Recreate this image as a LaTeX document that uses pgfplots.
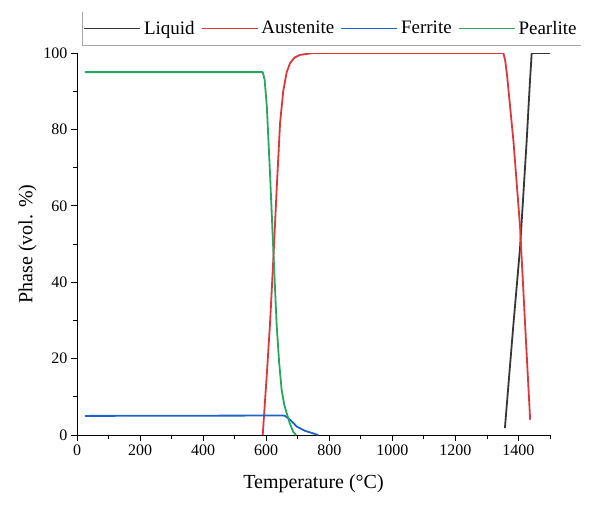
\documentclass[border=0pt]{standalone}
\usepackage{pgfplots}
\pgfplotsset{compat=1.18}
\usepackage{fontspec}
\setmainfont{Liberation Serif}
\definecolor{cLiq}{RGB}{55,55,55}
\definecolor{cAus}{RGB}{220,55,60}
\definecolor{cFer}{RGB}{30,100,200}
\definecolor{cPea}{RGB}{40,165,95}
\pgfplotsset{
  legend image code/.code={\draw[#1] (0pt,0pt) -- (56pt,0pt);},
}
\begin{document}
\begin{tikzpicture}
\begin{axis}[
  name=ax,
  scale only axis,
  width=473pt, height=382pt,
  xmin=0, xmax=1500, ymin=0, ymax=100,
  axis x line*=bottom, axis y line*=left,
  axis line style={-, line width=1pt, black},
  xtick={0,200,...,1400}, ytick={0,20,...,100},
  minor xtick={100,300,...,1500}, minor ytick={10,30,...,90},
  tick align=outside,
  major tick length=6pt, minor tick length=4pt,
  tick style={black, line width=0.8pt},
  /pgf/number format/assume math mode=true,
  /pgf/number format/1000 sep={},
  ticklabel style={font=\fontsize{16}{18}\selectfont},
  xlabel={Temperature (°C)},
  ylabel={Phase (vol. \%)},
  label style={font=\fontsize{20}{24}\selectfont},
  xlabel style={yshift=-12pt},
  legend columns=4,
  legend style={
    name=leg,
    at={(0,1)}, anchor=south west, xshift=5pt, yshift=8pt,
    draw=none, fill=none,
    font=\fontsize{19}{22}\selectfont,
    inner xsep=1pt, inner ysep=7pt,
    nodes={inner xsep=3pt},
    /tikz/every odd column/.append style={column sep=0pt},
    /tikz/every even column/.append style={column sep=3pt},
  },
]
\addplot[color=cLiq, line width=1.8pt, line join=round] coordinates {
(1357,1.8) (1370,15) (1384,29) (1405,49) (1426,77) (1436,92) (1442,100) (1500,100)
};
\addlegendentry{Liquid}
\addplot[color=cAus, line width=1.8pt, line join=round] coordinates {
(589,0) (602,16) (612,29) (623,46.6) (633,64) (644,81.7) (654,90) (665,95) (676,97.4) (690,98.8) (707,99.5) (749,100) (1352,100) (1358,98) (1364,94) (1384,77) (1405,54.5) (1421,29) (1437,4)
};
\addlegendentry{Austenite}
\addplot[color=cFer, line width=1.8pt, line join=round] coordinates {
(25,5) (654,5.1) (660,5) (676,4) (697,2.2) (723,1.1) (750,0.4) (765,0)
};
\addlegendentry{Ferrite}
\addplot[color=cPea, line width=1.8pt, line join=round] coordinates {
(25,95) (589,95) (595,93) (602,86) (612,68.6) (623,47.6) (633,29) (641,19) (649,11.8) (657,8) (665,5.7) (675,3) (686,0.8) (695,0)
};
\addlegendentry{Pearlite}
\end{axis}
\draw[gray!70, line width=0.8pt] (leg.north west) -- (leg.south west) -- (leg.south east);
\path ([shift={(-77pt,-69pt)}]ax.south west) rectangle ([shift={(48pt,53pt)}]ax.north east);
\end{tikzpicture}
\end{document}
